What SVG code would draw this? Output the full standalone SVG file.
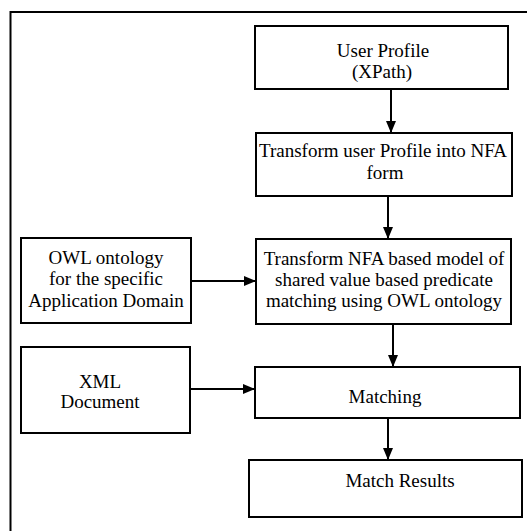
<svg xmlns="http://www.w3.org/2000/svg" width="527" height="531" viewBox="0 0 527 531">
<style>
.box{fill:#fff;stroke:#000;stroke-width:2}
.t{font-family:'Liberation Serif','DejaVu Serif',serif;font-size:19px;fill:#000;text-anchor:middle}
.c{stroke:#000;stroke-width:2;fill:none}
</style>
<defs>
<marker id="ah" markerWidth="12" markerHeight="10" refX="12" refY="5" orient="auto" markerUnits="userSpaceOnUse">
<path d="M0,0 L12,5 L0,10 Z" fill="#000"/>
</marker>
</defs>
<rect width="527" height="531" fill="#fff"/>
<g id="frame">
<path d="M10.5,540 V12 H540" stroke="#000" stroke-width="2" fill="none"/>
</g>
<g id="connectors">
<line class="c" x1="391" y1="89" x2="391" y2="133" marker-end="url(#ah)"/>
<line class="c" x1="388" y1="196" x2="388" y2="239" marker-end="url(#ah)"/>
<line class="c" x1="191" y1="281" x2="256" y2="281" marker-end="url(#ah)"/>
<line class="c" x1="393" y1="324" x2="393" y2="367" marker-end="url(#ah)"/>
<line class="c" x1="190" y1="389" x2="255" y2="389" marker-end="url(#ah)"/>
<line class="c" x1="388" y1="418" x2="388" y2="460" marker-end="url(#ah)"/>
</g>
<g id="userProfile">
<rect class="box" x="255" y="26" width="253" height="63"/>
<text class="t" x="383" y="57">User Profile</text>
<text class="t" x="382" y="78">(XPath)</text>
</g>
<g id="transformNFA">
<rect class="box" x="256" y="133" width="256" height="63"/>
<text class="t" x="383" y="157">Transform user Profile into NFA</text>
<text class="t" x="385" y="179">form</text>
</g>
<g id="owl">
<rect class="box" x="21" y="238" width="170" height="85"/>
<text class="t" x="106" y="264">OWL ontology</text>
<text class="t" x="106" y="285">for the specific</text>
<text class="t" x="106" y="307">Application Domain</text>
</g>
<g id="transformModel">
<rect class="box" x="256" y="239" width="255" height="85"/>
<text class="t" x="384" y="265">Transform NFA based model of</text>
<text class="t" x="384" y="286">shared value based predicate</text>
<text class="t" x="384" y="307">matching using OWL ontology</text>
</g>
<g id="xml">
<rect class="box" x="21" y="347" width="169" height="86"/>
<text class="t" x="100" y="388">XML</text>
<text class="t" x="100" y="408">Document</text>
</g>
<g id="matching">
<rect class="box" x="255" y="367" width="265" height="51"/>
<text class="t" x="385" y="403">Matching</text>
</g>
<g id="matchResults">
<rect class="box" x="249" y="460" width="273" height="57"/>
<text class="t" x="400" y="487">Match Results</text>
</g>
</svg>
